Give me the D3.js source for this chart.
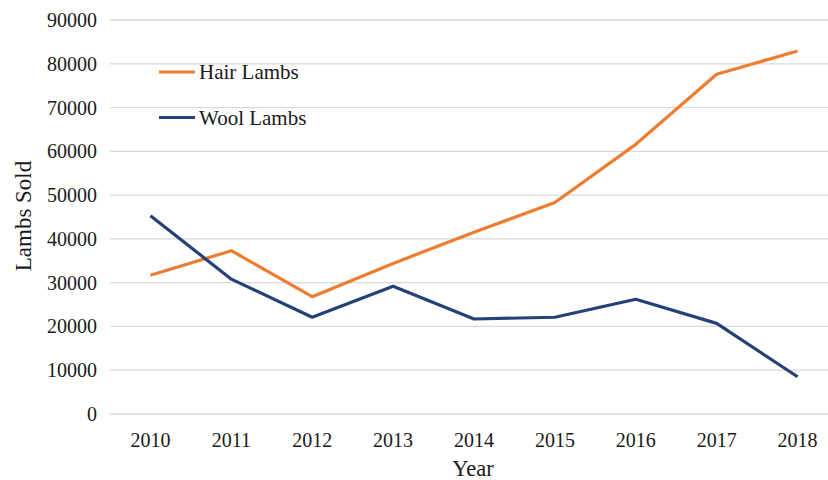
<!DOCTYPE html>
<html>
<head>
<meta charset="utf-8">
<script src="https://cdn.jsdelivr.net/npm/d3@7"></script>
<style>
  body { margin: 0; background: #fff; }
  svg { display: block; font-family: "Liberation Serif", "Times New Roman", serif; }
</style>
</head>
<body>
<svg></svg>
<script>
// Chart data
const years = ["2010", "2011", "2012", "2013", "2014", "2015", "2016", "2017", "2018"];
const hairLambs = [31700, 37300, 26800, 34400, 41500, 48300, 61600, 77600, 82900];
const woolLambs = [45300, 30800, 22100, 29200, 21700, 22100, 26200, 20700, 8500];
const yTicks = [0, 10000, 20000, 30000, 40000, 50000, 60000, 70000, 80000, 90000];

const width = 828;
const height = 480;

const svg = d3.select("svg")
    .attr("width", width)
    .attr("height", height);

// Category axis runs a bit past the right edge, like the source image
const x = d3.scaleBand()
    .domain(years)
    .range([110, 838]);

const y = d3.scaleLinear()
    .domain([0, 90000])
    .range([414, 20]);

// Gridlines
svg.append("g")
    .selectAll("line")
    .data(yTicks)
    .join("line")
    .attr("x1", 110)
    .attr("x2", width)
    .attr("y1", d => y(d))
    .attr("y2", d => y(d))
    .style("stroke", "#d9d9d9")
    .style("stroke-width", "1.3px");

// Y tick labels
svg.append("g")
    .selectAll("text")
    .data(yTicks)
    .join("text")
    .attr("x", 97)
    .attr("y", d => y(d))
    .attr("dy", "0.35em")
    .attr("text-anchor", "end")
    .style("font-size", "20px")
    .style("fill", "#1a1a1a")
    .text(d => d);

// X tick labels
svg.append("g")
    .selectAll("text")
    .data(years)
    .join("text")
    .attr("x", d => x(d) + x.bandwidth() / 2)
    .attr("y", 447)
    .attr("text-anchor", "middle")
    .style("font-size", "20px")
    .style("fill", "#1a1a1a")
    .text(d => d);

// Axis titles
svg.append("text")
    .attr("x", 473)
    .attr("y", 476)
    .attr("text-anchor", "middle")
    .style("font-size", "22.5px")
    .style("fill", "#1a1a1a")
    .text("Year");

svg.append("text")
    .attr("transform", "translate(31,216) rotate(-90)")
    .attr("text-anchor", "middle")
    .style("font-size", "23px")
    .style("fill", "#1a1a1a")
    .text("Lambs Sold");

// Lines
const series = [
    { name: "Hair Lambs", values: hairLambs, color: "#ed7d31" },
    { name: "Wool Lambs", values: woolLambs, color: "#254278" }
];

const line = d3.line()
    .x((d, i) => x(years[i]) + x.bandwidth() / 2)
    .y(d => y(d));

svg.append("g")
    .selectAll("path")
    .data(series)
    .join("path")
    .attr("d", d => line(d.values))
    .style("fill", "none")
    .style("stroke", d => d.color)
    .style("stroke-width", "3.2px")
    .style("stroke-linejoin", "round");

// Legend
const legend = svg.append("g")
    .selectAll("g")
    .data(series)
    .join("g")
    .attr("transform", (d, i) => `translate(159,${72 + i * 45.5})`);

legend.append("line")
    .attr("x1", 0)
    .attr("x2", 36)
    .style("stroke", d => d.color)
    .style("stroke-width", "3.2px");

legend.append("text")
    .attr("x", 40)
    .attr("dy", "0.35em")
    .style("font-size", "21px")
    .style("fill", "#1a1a1a")
    .text(d => d.name);
</script>
</body>
</html>
